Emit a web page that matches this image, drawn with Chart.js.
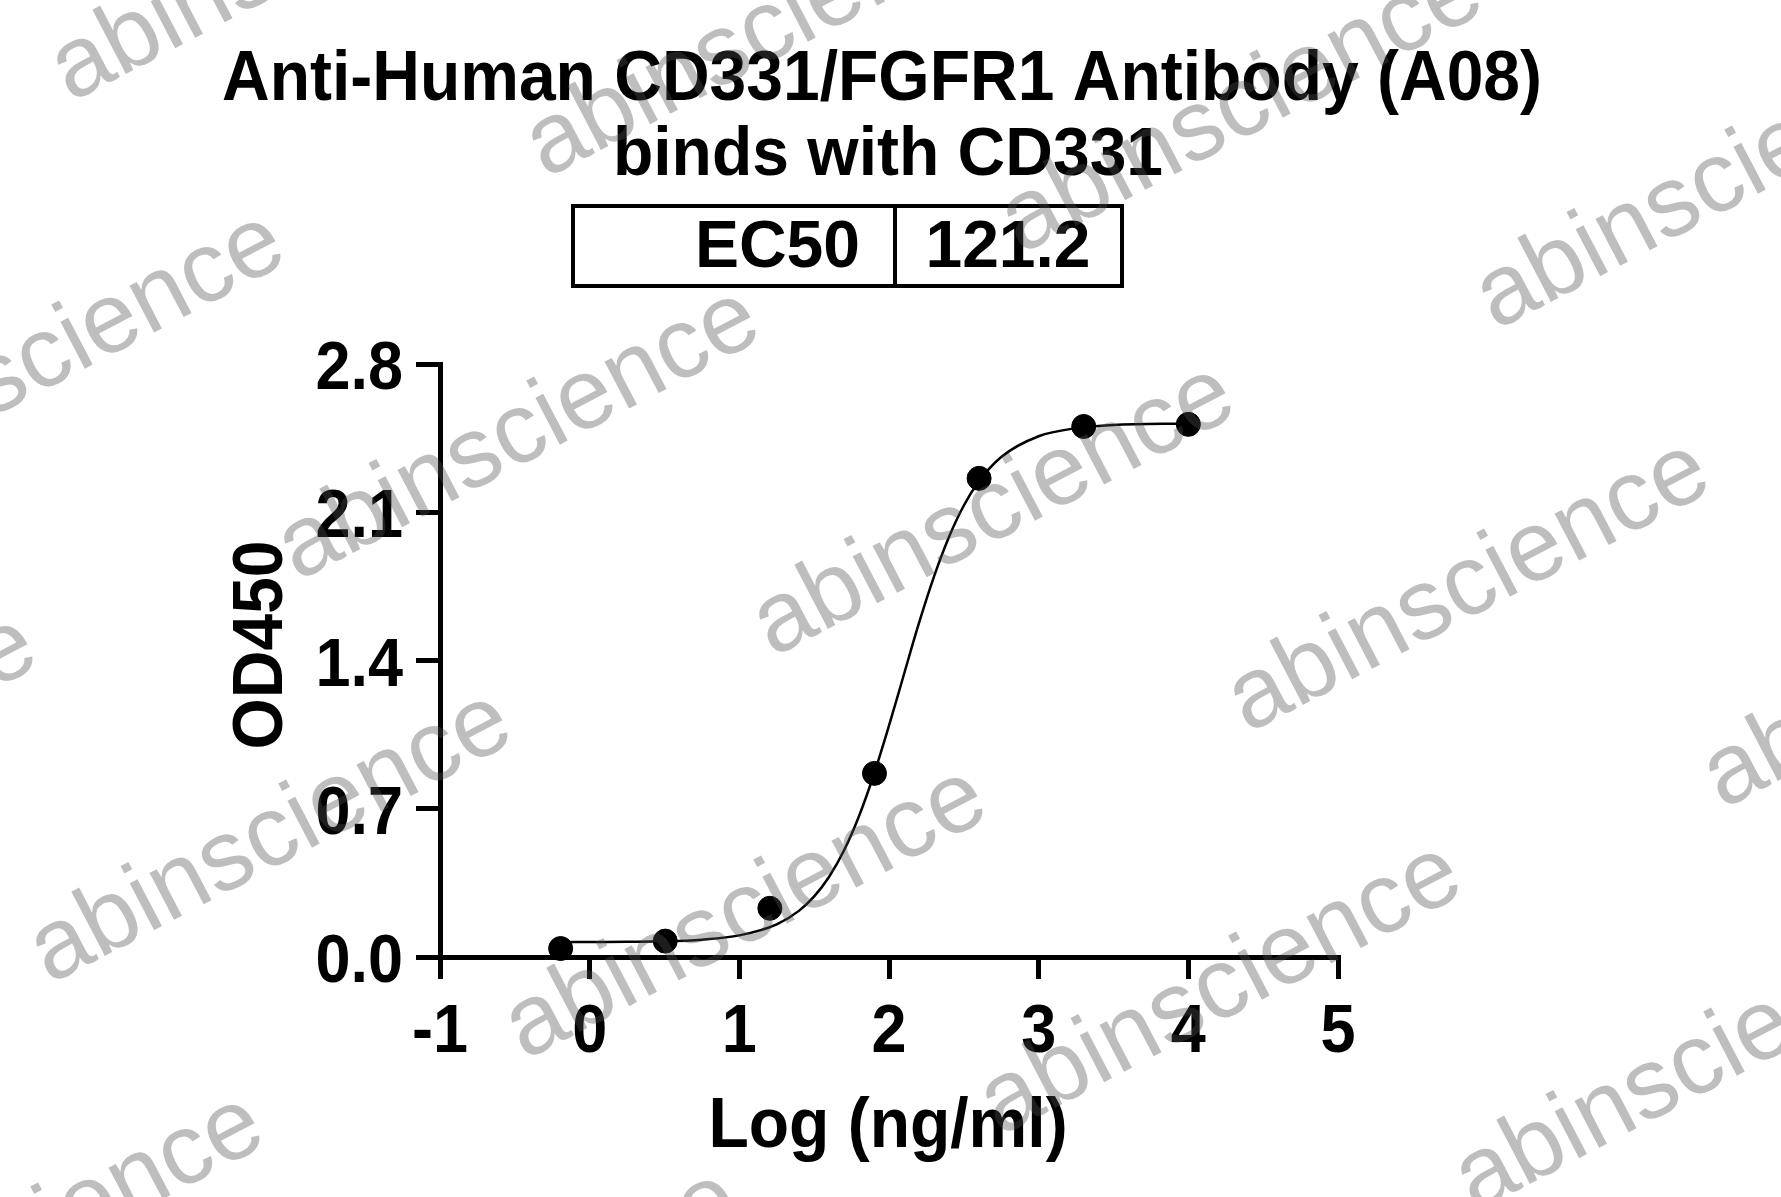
<!DOCTYPE html>
<html>
<head>
<meta charset="utf-8">
<title>Anti-Human CD331/FGFR1 Antibody (A08) binds with CD331</title>
<script src="https://cdn.jsdelivr.net/npm/chart.js@4.4.0/dist/chart.umd.min.js"></script>
<style>
  html, body { margin: 0; padding: 0; background: #fff; }
  #chart { display: block; }
</style>
</head>
<body>
<canvas id="chart" width="1781" height="1197"></canvas>
<script>
// measured points: log10 concentration (ng/ml) vs OD450
const logConc = [-0.194, 0.505, 1.204, 1.903, 2.602, 3.301, 4.0];
const od450 = [0.04, 0.075, 0.23, 0.867, 2.26, 2.505, 2.515];

// fitted curve
const curveX = [-0.194, 0, 0.25, 0.5, 0.75, 1.0, 1.25, 1.4, 1.5, 1.6, 1.7, 1.8, 1.9, 2.0, 2.1, 2.2, 2.3, 2.4, 2.5, 2.6, 2.75, 3.0, 3.25, 3.5, 4.0];
const curveY = [0.070, 0.071, 0.072, 0.074, 0.082, 0.102, 0.154, 0.219, 0.286, 0.379, 0.504, 0.666, 0.864, 1.092, 1.335, 1.576, 1.795, 1.982, 2.132, 2.245, 2.361, 2.459, 2.497, 2.512, 2.519];

const xTicks = [-1, 0, 1, 2, 3, 4, 5];
const yTicks = [0, 0.7, 1.4, 2.1, 2.8];

const titleLines = ["Anti-Human CD331/FGFR1 Antibody (A08)", "binds with CD331"];
const ec50Label = "EC50";
const ec50Value = "121.2";
const xTitle = "Log (ng/ml)";
const yTitle = "OD450";

const FONT = "'Liberation Sans', Arial, sans-serif";

// the original text is a bit taller than plain Arial, so stretch it vertically
function tallText(ctx, text, x, y, size, align, sy, rot) {
  ctx.save();
  ctx.translate(x, y);
  if (rot) ctx.rotate(rot);
  ctx.scale(1, sy);
  ctx.font = "bold " + size + "px " + FONT;
  ctx.textAlign = align;
  ctx.textBaseline = "alphabetic";
  ctx.fillStyle = "#000";
  ctx.fillText(text, 0, 0);
  ctx.restore();
}

// title, EC50 table, tick labels, axis titles and watermark
const decorations = {
  id: "decorations",
  afterDraw(chart) {
    const ctx = chart.ctx;
    const xs = chart.scales.x;
    const ys = chart.scales.y;

    tallText(ctx, titleLines[0], 882, 100, 66, "center", 1.06);
    tallText(ctx, titleLines[1], 888, 175, 66, "center", 1.04);

    // EC50 box
    ctx.save();
    ctx.strokeStyle = "#000";
    ctx.lineWidth = 4;
    ctx.strokeRect(573, 206, 549, 80);
    ctx.beginPath();
    ctx.moveTo(895, 206);
    ctx.lineTo(895, 286);
    ctx.stroke();
    ctx.restore();
    tallText(ctx, ec50Label, 860, 267, 66, "right", 1.0);
    tallText(ctx, ec50Value, 1008, 267, 66, "center", 1.0);

    // tick labels
    xTicks.forEach((v) => {
      tallText(ctx, String(v), xs.getPixelForValue(v), 1052, 63, "center", 1.1);
    });
    yTicks.forEach((v) => {
      tallText(ctx, v.toFixed(1), 403, ys.getPixelForValue(v) + 25, 63, "right", 1.1);
    });

    // axis titles
    tallText(ctx, xTitle, 888, 1147, 66, "center", 1.07);
    tallText(ctx, yTitle, 282, 645, 66, "center", 1.06, -Math.PI / 2);

    // watermark
    ctx.save();
    ctx.font = "100px " + FONT;
    ctx.fillStyle = "rgba(80,80,80,0.37)";
    ctx.textAlign = "center";
    ctx.textBaseline = "middle";
    for (let i = -3; i <= 3; i++) {
      for (let j = -2; j <= 3; j++) {
        const cx = 994 + i * 475 - j * 248;
        const cy = 511 + i * 76 + j * 403;
        if (cx < -400 || cx > 2200 || cy < -300 || cy > 1500) continue;
        ctx.save();
        ctx.translate(cx, cy);
        ctx.rotate(-0.482);
        ctx.fillText("abinscience", 0, 0);
        ctx.restore();
      }
    }
    ctx.restore();
  }
};

new Chart(document.getElementById("chart"), {
  type: "scatter",
  data: {
    datasets: [
      {
        label: "fit",
        data: curveX.map((x, i) => ({ x: x, y: curveY[i] })),
        showLine: true,
        borderColor: "#000",
        borderWidth: 2.5,
        pointRadius: 0,
        cubicInterpolationMode: "monotone",
      },
      {
        label: "OD450",
        data: logConc.map((x, i) => ({ x: x, y: od450[i] })),
        backgroundColor: "#000",
        borderColor: "#000",
        pointRadius: 12,
        pointHoverRadius: 12,
      },
    ],
  },
  options: {
    responsive: false,
    animation: false,
    clip: false,
    layout: { padding: { top: 364, right: 443, left: 0, bottom: 0 } },
    plugins: {
      legend: { display: false },
      tooltip: { enabled: false },
    },
    scales: {
      x: {
        type: "linear",
        min: -1,
        max: 5,
        afterBuildTicks: (s) => { s.ticks = xTicks.map((v) => ({ value: v })); },
        afterFit: (s) => { s.height = 240; },
        border: { display: true, color: "#000", width: 5 },
        grid: { drawOnChartArea: false, drawTicks: true, tickLength: 22, color: "#000", lineWidth: 5 },
        ticks: { display: false },
      },
      y: {
        type: "linear",
        min: 0,
        max: 2.8,
        afterBuildTicks: (s) => { s.ticks = yTicks.map((v) => ({ value: v })); },
        afterFit: (s) => { s.width = 440; },
        border: { display: true, color: "#000", width: 5 },
        grid: { drawOnChartArea: false, drawTicks: true, tickLength: 24, color: "#000", lineWidth: 5 },
        ticks: { display: false },
      },
    },
  },
  plugins: [decorations],
});
</script>
</body>
</html>
